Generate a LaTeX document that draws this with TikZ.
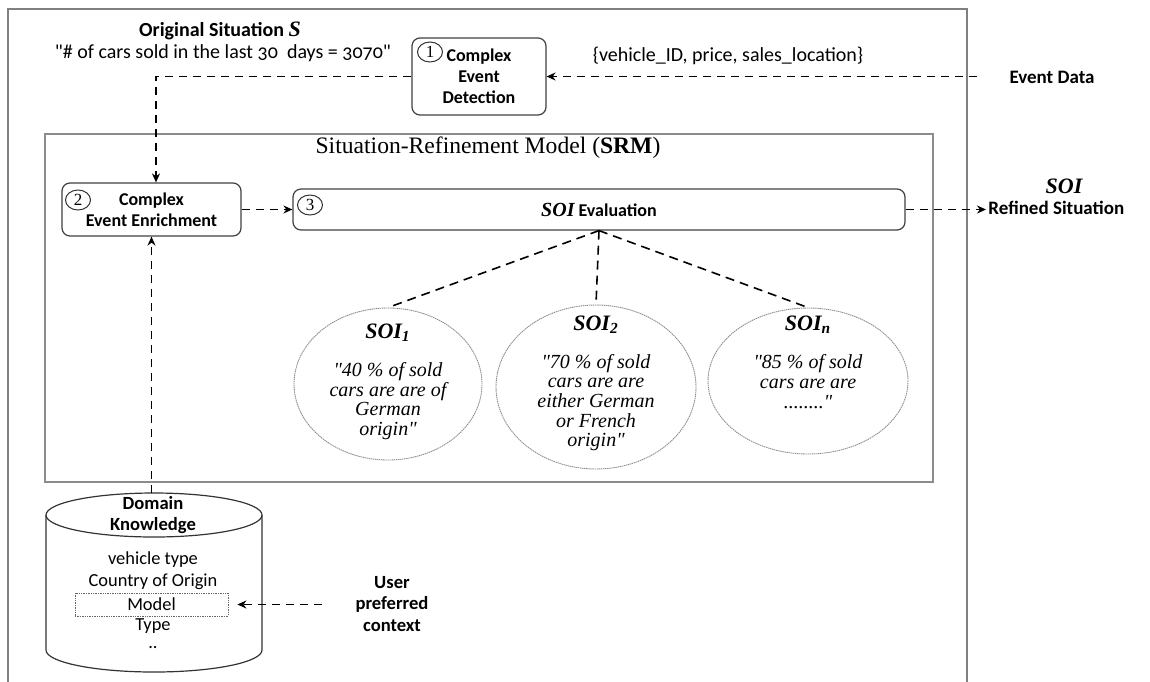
\documentclass[tikz,border=0pt]{standalone}
\usepackage{fontspec}
\setmainfont{Liberation Serif}[Ligatures=TeXOff]
\newfontfamily\calfont{Carlito}
\newfontfamily\calonum{Carlito}[Numbers=OldStyle]
\usetikzlibrary{arrows.meta,shapes.geometric,calc}
% straight double quote
\newcommand{\sq}{{\char"0022}}

\begin{document}
\begin{tikzpicture}[x=0.5pt,y=-0.5pt,
  rbox/.style={draw=black!75, line width=0.6pt, rounded corners=4pt, align=center,
    inner sep=0pt, font=\calfont\bfseries\fontsize{9}{10.5}\selectfont},
  numcirc/.style={ellipse, draw=black!80, line width=0.5pt, inner sep=0pt,
    minimum width=12.5pt, minimum height=10pt, font=\fontsize{8.5}{8.5}\selectfont},
  flow/.style={line width=0.8pt, dash pattern=on 4pt off 3pt,
    -{Stealth[length=4.5pt,width=4pt]}},
  link/.style={line width=0.8pt, dash pattern=on 4.5pt off 3pt},
  frameline/.style={draw=black!50, line width=0.9pt},
  bubble/.style={ellipse, draw=black!45, line width=0.45pt,
    dash pattern=on 0.7pt off 0.35pt, inner sep=0pt},
  bubtitle/.style={inner sep=0pt, font=\bfseries\itshape\fontsize{11}{12}\selectfont},
  bubtext/.style={align=center, inner sep=0pt, font=\itshape\fontsize{10}{9.8}\selectfont},
  extlabel/.style={align=center, inner sep=0pt, font=\calfont\bfseries\fontsize{9.5}{10.75}\selectfont},
  toplabel/.style={inner sep=0pt, font=\calfont\fontsize{10}{12}\selectfont},
  dbtext/.style={align=center, inner sep=0pt, font=\calfont\fontsize{9.2}{10.75}\selectfont},
  cyl/.style={draw=black!80, line width=0.6pt}
]
\useasboundingbox (0,0) rectangle (1150,681);

% outer system frame (open towards the bottom)
\draw[frameline] (8,700) -- (8,9) -- (967,9) -- (967,700);

% top: original situation and raw event data
\node[toplabel, font=\calfont\bfseries\fontsize{10}{12}\selectfont] (origtitle) at (220,31)
  {Original Situation {\rmfamily\itshape\fontsize{11}{12}\selectfont S}};
\node[toplabel, font=\calonum\fontsize{10}{12}\selectfont] (origquote) at (223,53)
  {\sq\# of cars sold in the last 30\ \ days = 3070\sq};
\node[toplabel] (attrs) at (728,56) {\{vehicle\_ID, price, sales\_location\}};
\node[extlabel] (evdata) at (1052,77) {Event Data};
\coordinate (evsrc) at (977,76.5);

% step 1: complex event detection
\node[rbox, minimum width=67pt, minimum height=38.5pt] (ced) at (479,76.5)
  {Complex\\Event\\Detection};
\node[numcirc] (n1) at (430,52) {1};

% situation-refinement model
\node[draw=black!45, line width=0.6pt, minimum width=444pt, minimum height=174pt,
  inner sep=0pt] (srm) at (489,308) {};
\node[inner sep=0pt, font=\fontsize{11.8}{14}\selectfont] (srmtitle) at (488,148)
  {Situation-Refinement Model (\textbf{SRM})};

% step 2: enrichment
\node[rbox, minimum width=89.5pt, minimum height=26.5pt] (cee) at (151.5,209.5)
  {Complex\\Event Enrichment};
\node[numcirc] (n2) at (78,200) {2};

% step 3: SOI evaluation
\node[rbox, minimum width=306pt, minimum height=20.5pt] (soi) at (599,209.5)
  {{\rmfamily\bfseries\itshape\fontsize{10}{12}\selectfont SOI} Evaluation};
\node[numcirc] (n3) at (310,205) {3};

% output
\node[bubtitle] (soitag) at (1064,186) {SOI};
\node[extlabel, anchor=west, inner sep=1pt] (rs) at (986,208) {Refined Situation};

% situations of interest
\node[bubble, minimum width=94pt, minimum height=76pt] (soi1) at (388,384) {};
\node[bubble, minimum width=100pt, minimum height=82pt] (soi2) at (596,387) {};
\node[bubble, minimum width=100pt, minimum height=73pt] (soin) at (808,381) {};

\node[bubtitle] (t1) at (388,333) {SOI\textsubscript{1}};
\node[bubtext] (b1) at (388,401) {\sq 40 \% of sold\\cars are are of\\German\\origin\sq};
\node[bubtitle] (t2) at (596,325) {SOI\textsubscript{2}};
\node[bubtext] (b2) at (596,402.5) {\sq 70 \% of sold\\cars are are\\either German\\or French\\origin\sq};
\node[bubtitle] (tn) at (808,325) {SOI\textsubscript{n}};
\node[bubtext] (bn) at (808,381.5) {\sq 85 \% of sold\\cars are are\\........\sq};

% domain knowledge store
\draw[cyl] (154,515) ellipse [x radius=54pt, y radius=11pt];
\draw[cyl] (46,515) -- (46,650) arc[start angle=180, end angle=360, x radius=54pt, y radius=11pt]
  -- (262,515);
\coordinate (dktop) at (151.5,493);
\node[extlabel, font=\calfont\bfseries\fontsize{9.3}{10.5}\selectfont] (dktitle) at (153,515.5)
  {Domain\\Knowledge};
\node[dbtext] (vtype) at (153,560) {vehicle type};
\node[dbtext] (origin) at (153,582) {Country of Origin};
\node[dbtext, draw=black!60, line width=0.4pt, dash pattern=on 0.7pt off 0.5pt,
  minimum width=76.5pt, minimum height=11.5pt] (model) at (151.5,604.5) {Model};
\node[dbtext] (mtype) at (153,626) {Type};
\node[dbtext] (more) at (153,648) {..};

% user context
\node[extlabel, font=\calfont\bfseries\fontsize{9.3}{10.75}\selectfont] (user) at (392,604)
  {User\\preferred\\context};
\coordinate (usrc) at (322,604.5);

% connectors
\draw[flow] (evsrc) -- (ced.east);
\draw[flow] (ced.west) -| ([xshift=2.25pt]cee.north);
\draw[flow] (cee.east) -- (soi.west);
\draw[flow] (soi.east) -- (soi.east -| rs.west);
\draw[link] (soi.south) -- (soi1.north);
\draw[link] (soi.south) -- (soi2.north);
\draw[link] (soi.south) -- (soin.north);
\draw[flow] (dktop) -- (cee.south);
\draw[flow, shorten >=4.5pt] (usrc) -- (model.east);
\end{tikzpicture}
\end{document}
